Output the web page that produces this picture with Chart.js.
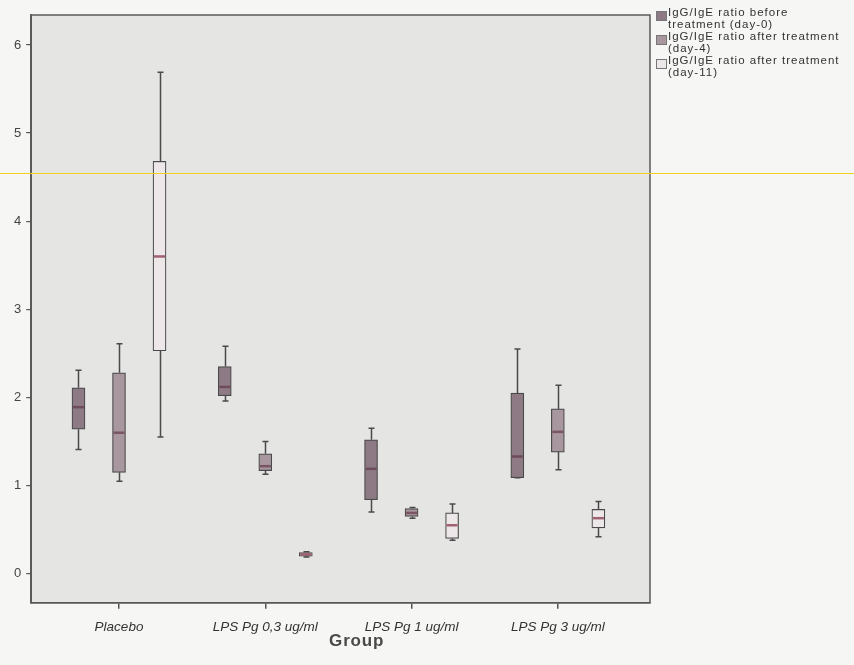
<!DOCTYPE html>
<html>
<head>
<meta charset="utf-8">
<script src="https://cdn.jsdelivr.net/npm/chart.js@4.4.0/dist/chart.umd.min.js"></script>
<style>
  body { margin: 0; background: #f6f6f5; }
  canvas { display: block; }
</style>
</head>
<body>
<canvas id="boxChart" width="854" height="665"></canvas>
<script>
// Groups on the x axis
const groups = ['Placebo', 'LPS Pg 0,3 ug/ml', 'LPS Pg 1 ug/ml', 'LPS Pg 3 ug/ml'];
const yTicks = [0, 1, 2, 3, 4, 5, 6];

// legend text, one entry per series (two lines each)
const seriesLabels = [
    ['IgG/IgE ratio before', 'treatment (day-0)'],
    ['IgG/IgE ratio after treatment', '(day-4)'],
    ['IgG/IgE ratio after treatment', '(day-11)']
];

// day-0
const day0Min = [1.41, 1.96, 0.70, 1.09];
const day0Q1  = [1.64, 2.02, 0.84, 1.09];
const day0Med = [1.89, 2.12, 1.19, 1.33];
const day0Q3  = [2.11, 2.35, 1.52, 2.05];
const day0Max = [2.31, 2.58, 1.65, 2.55];

// day-4
const day4Min = [1.05, 1.13, 0.63, 1.18];
const day4Q1  = [1.15, 1.17, 0.65, 1.38];
const day4Med = [1.60, 1.22, 0.69, 1.61];
const day4Q3  = [2.28, 1.36, 0.74, 1.87];
const day4Max = [2.61, 1.50, 0.75, 2.14];

// day-11
const day11Min = [1.55, 0.19, 0.38, 0.42];
const day11Q1  = [2.53, 0.20, 0.40, 0.52];
const day11Med = [3.60, 0.22, 0.55, 0.63];
const day11Q3  = [4.68, 0.24, 0.69, 0.73];
const day11Max = [5.69, 0.25, 0.79, 0.82];

const series = [
    { min: day0Min, q1: day0Q1, med: day0Med, q3: day0Q3, max: day0Max },
    { min: day4Min, q1: day4Q1, med: day4Med, q3: day4Q3, max: day4Max },
    { min: day11Min, q1: day11Q1, med: day11Med, q3: day11Q3, max: day11Max }
];

const fills = ['#8d7a84', '#a8979f', '#ede7ea'];
const medianColors = ['#6e4c5a', '#7a5563', '#a06272'];
const offsets = [-0.277, 0, 0.277];
const BOX_W = 13;
const FONT = '"Liberation Sans", Arial, sans-serif';

// background, frame, whiskers, medians, legend
const boxPlugin = {
    id: 'boxPlugin',
    beforeDraw(chart) {
        const { ctx, chartArea: a } = chart;
        ctx.save();
        ctx.fillStyle = '#f6f6f5';
        ctx.fillRect(0, 0, chart.width, chart.height);
        ctx.fillStyle = '#e5e5e4';
        ctx.fillRect(a.left, a.top, a.right - a.left, a.bottom - a.top);
        ctx.restore();
    },
    beforeDatasetsDraw(chart) {
        const { ctx, scales: { x, y } } = chart;
        ctx.save();
        ctx.strokeStyle = '#4a4a4a';
        ctx.lineWidth = 1.5;
        series.forEach((s, i) => {
            groups.forEach((g, j) => {
                const px = Math.round(x.getPixelForValue(j + offsets[i])) + 0.5;
                ctx.beginPath();
                ctx.moveTo(px, y.getPixelForValue(s.q3[j]));
                ctx.lineTo(px, y.getPixelForValue(s.max[j]));
                ctx.moveTo(px, y.getPixelForValue(s.q1[j]));
                ctx.lineTo(px, y.getPixelForValue(s.min[j]));
                // caps
                ctx.moveTo(px - 3, y.getPixelForValue(s.max[j]));
                ctx.lineTo(px + 3, y.getPixelForValue(s.max[j]));
                ctx.moveTo(px - 3, y.getPixelForValue(s.min[j]));
                ctx.lineTo(px + 3, y.getPixelForValue(s.min[j]));
                ctx.stroke();
            });
        });
        ctx.restore();
    },
    afterDatasetsDraw(chart) {
        const { ctx, chartArea: a, scales: { x, y } } = chart;
        ctx.save();
        ctx.lineWidth = 2.5;
        series.forEach((s, i) => {
            ctx.strokeStyle = medianColors[i];
            groups.forEach((g, j) => {
                const px = x.getPixelForValue(j + offsets[i]);
                const py = y.getPixelForValue(s.med[j]);
                ctx.beginPath();
                ctx.moveTo(px - BOX_W / 2 + 1, py);
                ctx.lineTo(px + BOX_W / 2 - 1, py);
                ctx.stroke();
            });
        });
        // frame
        ctx.strokeStyle = '#5a5a5a';
        ctx.lineWidth = 1.5;
        ctx.strokeRect(a.left, a.top, a.right - a.left, a.bottom - a.top);
        ctx.restore();
    },
    afterDraw(chart) {
        const { ctx, chartArea: a } = chart;
        ctx.save();
        // legend
        ctx.font = '11.5px ' + FONT;
        ctx.letterSpacing = '1px';
        ctx.textBaseline = 'middle';
        seriesLabels.forEach((lines, i) => {
            const top = 7 + i * 24;
            ctx.fillStyle = fills[i];
            ctx.fillRect(a.right + 6, top + 4, 11, 10);
            ctx.strokeStyle = '#777';
            ctx.lineWidth = 1;
            ctx.strokeRect(a.right + 6.5, top + 4.5, 10, 9);
            ctx.fillStyle = '#333';
            lines.forEach((t, k) => ctx.fillText(t, a.right + 18, top + 6 + k * 12));
        });
        // axis title
        ctx.font = 'bold 17px ' + FONT;
        ctx.letterSpacing = '0.8px';
        ctx.fillStyle = '#4a4a4a';
        ctx.textAlign = 'center';
        ctx.fillText('Group', (a.left + a.right) / 2 + 16, 641);
        // scan artefact line
        ctx.strokeStyle = '#f0d020';
        ctx.lineWidth = 1.2;
        ctx.beginPath();
        ctx.moveTo(0, 173.5);
        ctx.lineTo(chart.width, 173.5);
        ctx.stroke();
        ctx.restore();
    }
};

const ctx = document.getElementById('boxChart').getContext('2d');
const boxChart = new Chart(ctx, {
    type: 'bar',
    data: {
        datasets: series.map((s, i) => ({
            label: seriesLabels[i].join(' '),
            data: groups.map((g, j) => ({ x: j + offsets[i], y: [s.q1[j], s.q3[j]] })),
            backgroundColor: fills[i],
            borderColor: '#4a4a4a',
            borderWidth: 1.2,
            borderSkipped: false,
            barThickness: BOX_W,
            grouped: false
        }))
    },
    options: {
        responsive: false,
        animation: false,
        layout: { padding: { left: 9, right: 204, top: 15, bottom: 20 } },
        plugins: {
            legend: { display: false },
            tooltip: { enabled: false }
        },
        scales: {
            x: {
                type: 'linear',
                offset: false,
                min: -0.6,
                max: 3.63,
                afterBuildTicks: axis => { axis.ticks = groups.map((g, i) => ({ value: i })); },
                ticks: {
                    callback: v => groups[v],
                    color: '#333',
                    padding: 10,
                    maxRotation: 0,
                    autoSkip: false,
                    font: { family: FONT, size: 13.5, style: 'italic' }
                },
                grid: { offset: false, drawOnChartArea: false, tickLength: 6, color: '#555', lineWidth: 1.5 },
                border: { color: '#5a5a5a', width: 1.5 }
            },
            y: {
                min: -0.33,
                max: 6.34,
                afterBuildTicks: axis => { axis.ticks = yTicks.map(v => ({ value: v })); },
                ticks: {
                    color: '#444',
                    padding: 5,
                    font: { family: FONT, size: 13 }
                },
                grid: { drawOnChartArea: false, tickLength: 5, color: '#555', lineWidth: 1.2 },
                border: { color: '#5a5a5a', width: 1.5 }
            }
        }
    },
    plugins: [boxPlugin]
});
</script>
</body>
</html>
